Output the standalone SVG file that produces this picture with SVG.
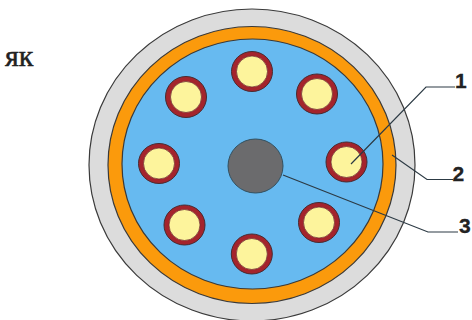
<svg xmlns="http://www.w3.org/2000/svg" width="472" height="320" viewBox="0 0 472 320">
<style>
.o{stroke:#3a3a3a;stroke-width:1.2}
.w{fill:#a4242c;stroke:#4a2a30;stroke-width:1}
.y{fill:#fdf49c;stroke:#6a2a30;stroke-width:.7}
.l{fill:none;stroke:#2c3a44;stroke-width:1.2}
.n{font-family:"Liberation Sans",Arial,sans-serif;font-weight:bold;font-size:21px;fill:#222;stroke:#222;stroke-width:.3}
</style>
<rect width="472" height="320" fill="#fff"/>
<g id="cable">
<ellipse class="o" cx="252" cy="165" rx="163" ry="156" fill="#dcdcdc"/>
<ellipse class="o" cx="252" cy="165" rx="144" ry="138.500" fill="#fb9a0c"/>
<ellipse class="o" cx="252.500" cy="164" rx="130.500" ry="125" fill="#67baf0"/>
</g>
<g id="core"><ellipse cx="255.500" cy="166" rx="27.500" ry="27" fill="#6b6b6d" stroke="#33505f" stroke-width="1"/></g>
<g id="wire-1"><ellipse class="w" cx="252" cy="71.500" rx="20.500" ry="20"/><ellipse class="y" cx="252" cy="71.500" rx="15.500" ry="15.500"/></g>
<g id="wire-2"><ellipse class="w" cx="317" cy="94" rx="20.500" ry="20"/><ellipse class="y" cx="317" cy="94" rx="15.500" ry="15.500"/></g>
<g id="wire-3"><ellipse class="w" cx="346.500" cy="162" rx="20.500" ry="20"/><ellipse class="y" cx="346.500" cy="162" rx="15.500" ry="15.500"/></g>
<g id="wire-4"><ellipse class="w" cx="319" cy="222.500" rx="20.500" ry="20"/><ellipse class="y" cx="319" cy="222.500" rx="15.500" ry="15.500"/></g>
<g id="wire-5"><ellipse class="w" cx="251.800" cy="254" rx="20.500" ry="20"/><ellipse class="y" cx="251.800" cy="254" rx="15.500" ry="15.500"/></g>
<g id="wire-6"><ellipse class="w" cx="184.500" cy="225" rx="20.500" ry="20"/><ellipse class="y" cx="184.500" cy="225" rx="15.500" ry="15.500"/></g>
<g id="wire-7"><ellipse class="w" cx="159" cy="163.500" rx="20.500" ry="20"/><ellipse class="y" cx="159" cy="163.500" rx="15.500" ry="15.500"/></g>
<g id="wire-8"><ellipse class="w" cx="186" cy="97" rx="20.500" ry="20.500"/><ellipse class="y" cx="186" cy="97" rx="15.500" ry="15.500"/></g>
<g id="connectors">
<path class="l" d="M351 164L426 87H455"/>
<path class="l" d="M392 155L427 179.500H453"/>
<path class="l" d="M283 175L428 232H458"/>
</g>
<g id="labels">
<text class="n" x="455" y="88">1</text>
<text class="n" x="452.500" y="181">2</text>
<text class="n" x="459" y="233">3</text>
<text x="5" y="66" font-family="Liberation Serif,Times New Roman,serif" font-size="30" fill="#222" stroke="#222" stroke-width=".5">як</text>
</g>
</svg>
